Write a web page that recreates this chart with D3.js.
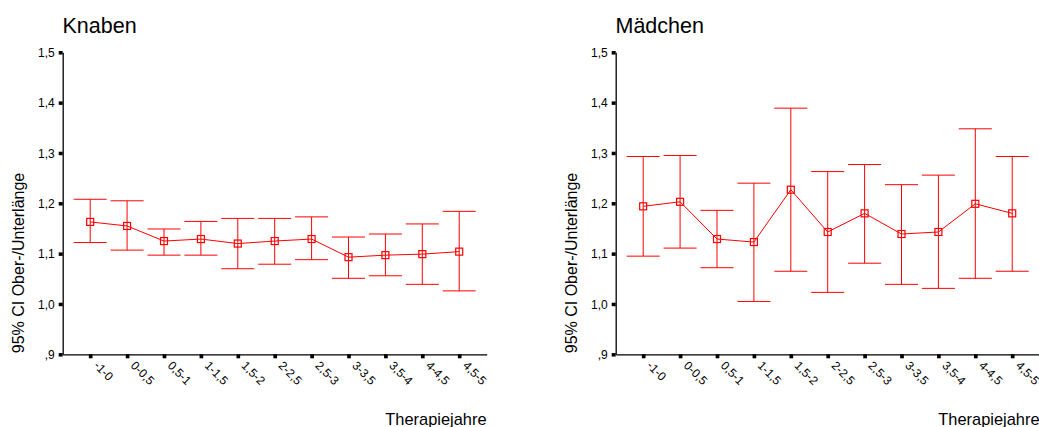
<!DOCTYPE html>
<html>
<head>
<meta charset="utf-8">
<script src="https://cdn.jsdelivr.net/npm/d3@7"></script>
<style>
  html, body { margin: 0; padding: 0; background: #fff; }
  svg { display: block; }
  text { font-family: "Liberation Sans", Arial, sans-serif; fill: #000; }
</style>
</head>
<body>
<svg id="chart" width="1039" height="427"></svg>
<script>
// ---- data ----
const categories = ["-1-0", "0-0,5", "0,5-1", "1-1,5", "1,5-2", "2-2,5", "2,5-3", "3-3,5", "3,5-4", "4-4,5", "4,5-5"];

const knabenMean  = [1.163, 1.155, 1.125, 1.129, 1.120, 1.125, 1.129, 1.093, 1.097, 1.099, 1.104];
const knabenLower = [1.122, 1.107, 1.097, 1.097, 1.070, 1.079, 1.088, 1.051, 1.056, 1.039, 1.026];
const knabenUpper = [1.208, 1.205, 1.149, 1.164, 1.170, 1.170, 1.173, 1.133, 1.139, 1.159, 1.184];

const maedchenMean  = [1.194, 1.203, 1.129, 1.123, 1.227, 1.143, 1.180, 1.139, 1.143, 1.199, 1.180];
const maedchenLower = [1.095, 1.111, 1.072, 1.005, 1.065, 1.023, 1.081, 1.039, 1.031, 1.051, 1.065];
const maedchenUpper = [1.293, 1.295, 1.186, 1.240, 1.389, 1.263, 1.277, 1.237, 1.256, 1.348, 1.293];

const yTickValues = [0.9, 1.0, 1.1, 1.2, 1.3, 1.4, 1.5];
const yTickLabels = [",9", "1,0", "1,1", "1,2", "1,3", "1,4", "1,5"];

const panelTitles = ["Knaben", "Mädchen"];
const yAxisTitle = "95% CI Ober-/Unterlänge";
const xAxisTitle = "Therapiejahre";

// ---- drawing ----
const svg = d3.select("#chart");
const red = "#ff0000";

const x = d3.scalePoint().domain(categories).range([62.7, 486.7]).padding(0.745);
const y = d3.scaleLinear().domain([0.9, 1.5]).range([354.3, 52.3]);

function drawPanel(offsetX, title, mean, lower, upper) {
  const g = svg.append("g").attr("transform", `translate(${offsetX},0)`);

  // title
  g.append("text").attr("x", 62.5).attr("y", 32.5)
    .style("font-size", "21.5px").text(title);

  // y axis
  const yAxis = d3.axisLeft(y).tickValues(yTickValues)
    .tickFormat((d, i) => yTickLabels[i]).tickSize(4).tickSizeOuter(0).tickPadding(4);
  const ga = g.append("g").attr("transform", "translate(62.7,0)").call(yAxis);
  ga.select(".domain").attr("stroke", "#000").attr("stroke-width", 1.3);
  ga.selectAll(".tick line").attr("stroke", "#000").attr("stroke-width", 3.5);
  ga.selectAll(".tick text").style("font-size", "12px").attr("dy", "0.36em");

  // x axis
  const xAxis = d3.axisBottom(x).tickSize(4).tickSizeOuter(0);
  const gx = g.append("g").attr("transform", "translate(0,354.3)").call(xAxis);
  gx.select(".domain").attr("stroke", "#000").attr("stroke-width", 1.3);
  gx.selectAll(".tick line").attr("stroke", "#000").attr("stroke-width", 3.7);
  gx.selectAll(".tick text")
    .style("font-size", "12px")
    .attr("text-anchor", "start")
    .attr("x", 0).attr("y", 0).attr("dy", null)
    .attr("transform", "translate(2.5,12) rotate(45)");

  // axis titles
  g.append("text")
    .attr("transform", "translate(24,263) rotate(-90)")
    .attr("text-anchor", "middle")
    .style("font-size", "16px").text(yAxisTitle);
  g.append("text").attr("x", 486.5).attr("y", 424.5)
    .attr("text-anchor", "end")
    .style("font-size", "16.4px").text(xAxisTitle);

  const data = categories.map((c, i) => ({ c, m: mean[i], lo: lower[i], hi: upper[i] }));
  const cap = 16.5;

  // error bars
  const eb = g.append("g").attr("stroke", red).attr("stroke-width", 1).attr("fill", "none");
  eb.selectAll("line.v").data(data).join("line").attr("class", "v")
    .attr("x1", d => x(d.c)).attr("x2", d => x(d.c))
    .attr("y1", d => y(d.lo)).attr("y2", d => y(d.hi));
  eb.selectAll("line.t").data(data).join("line").attr("class", "t")
    .attr("x1", d => x(d.c) - cap).attr("x2", d => x(d.c) + cap)
    .attr("y1", d => y(d.hi)).attr("y2", d => y(d.hi));
  eb.selectAll("line.b").data(data).join("line").attr("class", "b")
    .attr("x1", d => x(d.c) - cap).attr("x2", d => x(d.c) + cap)
    .attr("y1", d => y(d.lo)).attr("y2", d => y(d.lo));

  // mean line
  g.append("path").datum(data)
    .attr("fill", "none").attr("stroke", red).attr("stroke-width", 1)
    .attr("d", d3.line().x(d => x(d.c)).y(d => y(d.m)));

  // markers
  const s = 7;
  g.append("g").selectAll("rect").data(data).join("rect")
    .attr("x", d => x(d.c) - s / 2).attr("y", d => y(d.m) - s / 2)
    .attr("width", s).attr("height", s)
    .attr("fill", "none").attr("stroke", red).attr("stroke-width", 1.2);
}

drawPanel(0, panelTitles[0], knabenMean, knabenLower, knabenUpper);
drawPanel(553, panelTitles[1], maedchenMean, maedchenLower, maedchenUpper);
</script>
</body>
</html>
